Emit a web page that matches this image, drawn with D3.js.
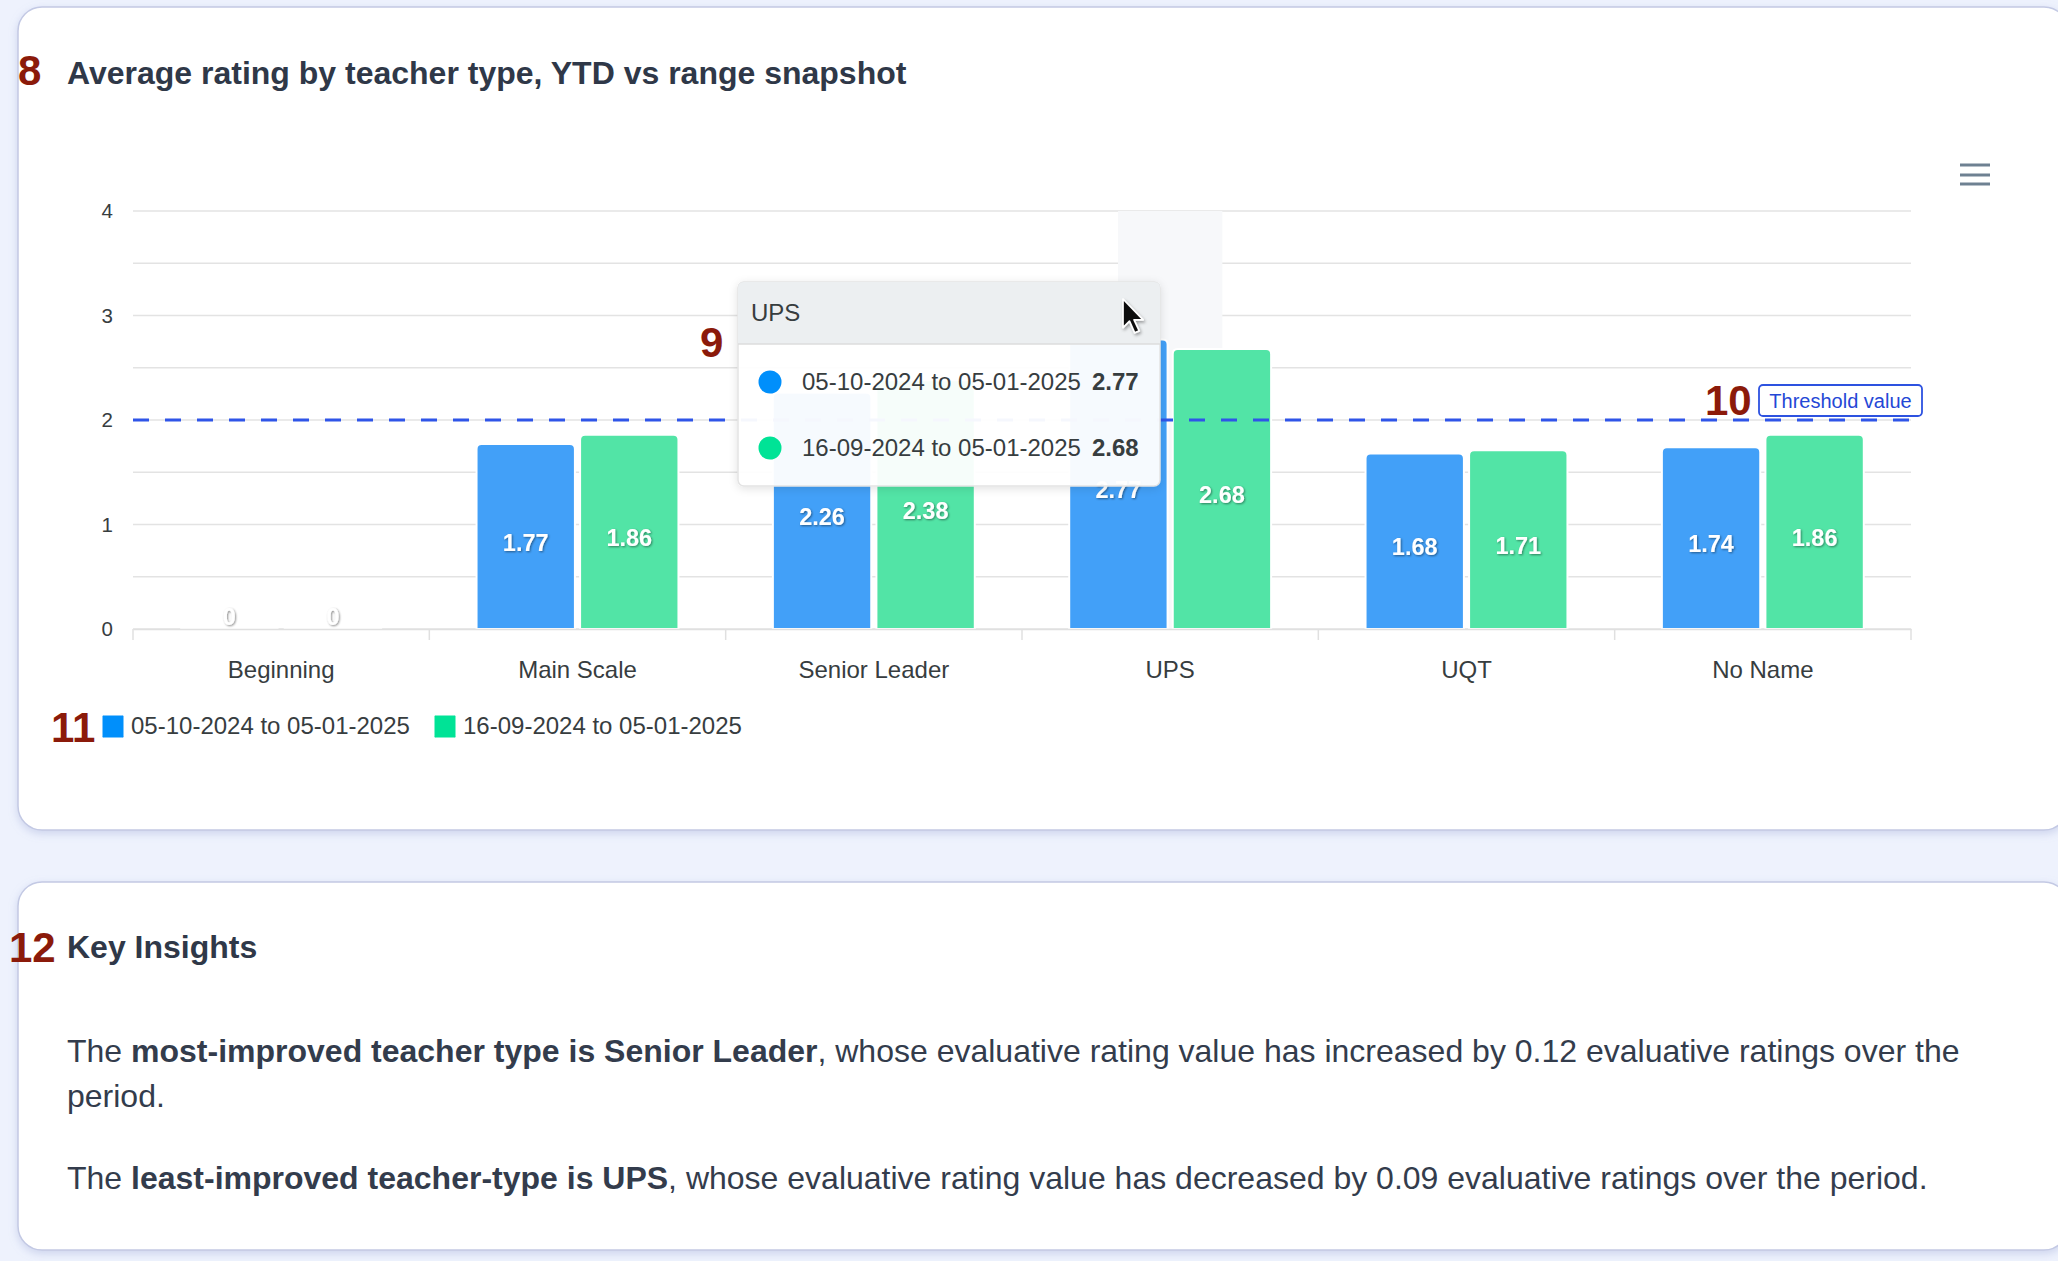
<!DOCTYPE html>
<html><head><meta charset="utf-8">
<script src="https://cdn.jsdelivr.net/npm/d3@7"></script>
<style>
html,body{margin:0;padding:0;background:#eef2fd;overflow:hidden;}
svg{display:block;font-family:"Liberation Sans",Arial,Helvetica,sans-serif;}
</style></head><body>
<svg id="c" width="2058" height="1261"></svg>
<script>
// ---------- data ----------
const categories = ["Beginning","Main Scale","Senior Leader","UPS","UQT","No Name"];
const seriesNames = ["05-10-2024 to 05-01-2025","16-09-2024 to 05-01-2025"];
const seriesA = [0, 1.77, 2.26, 2.77, 1.68, 1.74];
const seriesB = [0, 1.86, 2.38, 2.68, 1.71, 1.86];
const yTickValues = [0, 1, 2, 3, 4];
const gridValues = [0, 0.5, 1, 1.5, 2, 2.5, 3, 3.5, 4];
const thresholdValue = 2;
const thresholdText = "Threshold value";
const hoveredCategory = "UPS";
const chartTitle = "Average rating by teacher type, YTD vs range snapshot";
const insightsTitle = "Key Insights";
const insightLines = [
  [["The ", false], ["most-improved teacher type is Senior Leader", true], [", whose evaluative rating value has increased by 0.12 evaluative ratings over the", false]],
  [["period.", false]],
  [["The ", false], ["least-improved teacher-type is UPS", true], [", whose evaluative rating value has decreased by 0.09 evaluative ratings over the period.", false]]
];
const markerLabels = ["8", "9", "10", "11", "12"];

// ---------- styling ----------
const fills = ["#42a0f8", "#52e4a6"];
const markerFills = ["#008ffb", "#00e396"];
const textColor = "#373d3f";
const darkRed = "#8b1a0a";

const svg = d3.select("#c");
const defs = svg.append("defs");
const sh = defs.append("filter").attr("id","cardShadow").attr("x","-5%").attr("y","-5%").attr("width","110%").attr("height","115%");
sh.append("feDropShadow").attr("dx",0).attr("dy",3).attr("stdDeviation",4).attr("flood-color","#8d9bd0").attr("flood-opacity",0.35);
const ls = defs.append("filter").attr("id","lblShadow").attr("x","-20%").attr("y","-20%").attr("width","140%").attr("height","140%");
ls.append("feDropShadow").attr("dx",1).attr("dy",1).attr("stdDeviation",1).attr("flood-color","#000").attr("flood-opacity",0.45);
const ts = defs.append("filter").attr("id","tipShadow").attr("x","-10%").attr("y","-10%").attr("width","120%").attr("height","130%");
ts.append("feDropShadow").attr("dx",0).attr("dy",2).attr("stdDeviation",4).attr("flood-color","#000").attr("flood-opacity",0.12);
const cs = defs.append("filter").attr("id","curShadow").attr("x","-30%").attr("y","-30%").attr("width","160%").attr("height","160%");
cs.append("feDropShadow").attr("dx",1).attr("dy",1.5).attr("stdDeviation",1.2).attr("flood-color","#000").attr("flood-opacity",0.35);

// ---------- cards ----------
svg.append("rect").attr("x",18).attr("y",7).attr("width",2050).attr("height",823).attr("rx",24)
  .attr("fill","#fff").attr("stroke","#c3c9e4").attr("stroke-width",1.5).attr("filter","url(#cardShadow)");
svg.append("rect").attr("x",18).attr("y",882).attr("width",2050).attr("height",368).attr("rx",24)
  .attr("fill","#fff").attr("stroke","#c3c9e4").attr("stroke-width",1.5).attr("filter","url(#cardShadow)");

// title
svg.append("text").attr("x",67).attr("y",84).attr("font-size",32).attr("font-weight","bold")
  .attr("fill","#2f3848").text(chartTitle);

// hamburger
[165,175,184].forEach(yy => svg.append("line").attr("x1",1960).attr("x2",1990).attr("y1",yy).attr("y2",yy)
  .attr("stroke","#6e8192").attr("stroke-width",3));

// ---------- scales ----------
const x = d3.scaleBand().domain(categories).range([133,1911]).padding(0);
const x1 = d3.scaleBand().domain([0,1]).range([0,x.bandwidth()]).paddingInner(0.05).paddingOuter(0.456);
const y = d3.scaleLinear().domain([0,4]).range([629,211]);

const plot = svg.append("g");

// grid
plot.selectAll("line.grid").data(gridValues).enter().append("line")
  .attr("x1",133).attr("x2",1911).attr("y1",d=>y(d)).attr("y2",d=>y(d))
  .attr("stroke","#e3e3e3").attr("stroke-width",1.5);

// crosshair for hovered category
const chW = x1.bandwidth() + 6;
plot.append("rect").attr("x", x(hoveredCategory) + x.bandwidth()/2 - chW/2).attr("y", y(4))
  .attr("width", chW).attr("height", y(0)-y(4)).attr("fill","#f7f8fa");

// y axis
const yAxis = d3.axisLeft(y).tickValues(yTickValues).tickSize(0).tickPadding(20).tickFormat(d3.format("d"));
const ya = svg.append("g").attr("transform","translate(133,0)").call(yAxis);
ya.select(".domain").remove();
ya.selectAll("text").attr("font-size",20.5).attr("fill",textColor).attr("font-family","Liberation Sans, Arial, sans-serif");

// x axis
const xAxis = d3.axisBottom(x).tickSize(0).tickSizeOuter(0);
const xa = svg.append("g").attr("transform","translate(0,629)").call(xAxis);
xa.select(".domain").attr("stroke","#e0e0e0").attr("stroke-width",1.5);
xa.selectAll("text").attr("font-size",24).attr("fill",textColor).attr("y",49).attr("dy",0)
  .attr("font-family","Liberation Sans, Arial, sans-serif");
const bounds = categories.map(c => x(c)).concat([x.range()[1]]);
xa.selectAll("line.bt").data(bounds).enter().append("line").attr("class","bt")
  .attr("x1",d=>d).attr("x2",d=>d).attr("y1",0).attr("y2",11).attr("stroke","#e0e0e0").attr("stroke-width",1.5);

// bars
function barPath(bx, by, w, h, r) {
  r = Math.min(r, h/2, w/2);
  if (h <= 0) return `M${bx},${by}H${bx+w}V${by}H${bx}Z`;
  return `M${bx},${by+h}V${by+r}Q${bx},${by} ${bx+r},${by}H${bx+w-r}Q${bx+w},${by} ${bx+w},${by+r}V${by+h}Z`;
}
const seriesVals = [seriesA, seriesB];
const groups = plot.selectAll("g.cat").data(categories).enter().append("g")
  .attr("transform", c => `translate(${x(c)},0)`);
groups.each(function(c, i) {
  const g = d3.select(this);
  seriesVals.forEach((vals, s) => {
    const v = vals[i];
    g.append("path").attr("d", barPath(x1(s), y(v), x1.bandwidth(), y(0)-y(v), 5))
      .attr("fill", fills[s]).attr("stroke","#fff").attr("stroke-width",2);
  });
});
groups.each(function(c, i) {
  const g = d3.select(this);
  seriesVals.forEach((vals, s) => {
    const v = vals[i];
    const mid = (y(v)+y(0))/2;
    const ly = v > 0 ? mid + 14 : y(0) - 4;
    g.append("text").attr("x", x1(s)+x1.bandwidth()/2).attr("y", ly)
      .attr("text-anchor","middle").attr("font-size",23.5).attr("font-weight","bold")
      .attr("fill","#fff").attr("filter","url(#lblShadow)").text(v);
  });
});

// threshold
svg.append("line").attr("x1",133).attr("x2",1911).attr("y1",y(thresholdValue)).attr("y2",y(thresholdValue))
  .attr("stroke","#2f55e8").attr("stroke-width",2.8).attr("stroke-dasharray","16 16");
svg.append("rect").attr("x",1759).attr("y",385).attr("width",163).attr("height",31).attr("rx",4)
  .attr("fill","#fff").attr("stroke","#2d52e0").attr("stroke-width",1.8);
svg.append("text").attr("x",1840.5).attr("y",408).attr("text-anchor","middle").attr("font-size",20)
  .attr("fill","#2447d6").text(thresholdText);

// legend
const leg = svg.append("g");
const legX = [102, 434];
seriesNames.forEach((n, s) => {
  leg.append("rect").attr("x",legX[s]).attr("y",715).attr("width",22).attr("height",23).attr("rx",1.5)
    .attr("fill",markerFills[s]).attr("stroke","#fff").attr("stroke-width",1);
  leg.append("text").attr("x",legX[s]+29).attr("y",734).attr("font-size",24).attr("fill",textColor).text(n);
});

// tooltip
const hi = categories.indexOf(hoveredCategory);
const tip = svg.append("g");
tip.append("rect").attr("x",738).attr("y",282).attr("width",422).attr("height",204).attr("rx",6)
  .attr("fill","rgba(255,255,255,0.95)").attr("stroke","#e3e3e3").attr("stroke-width",1.5).attr("filter","url(#tipShadow)");
tip.append("path").attr("d","M738,344V288Q738,282 744,282H1154Q1160,282 1160,288V344Z").attr("fill","#eceff1");
tip.append("line").attr("x1",738).attr("x2",1160).attr("y1",344).attr("y2",344).attr("stroke","#dddddd").attr("stroke-width",1.5);
tip.append("text").attr("x",751).attr("y",321).attr("font-size",24).attr("fill",textColor).text(hoveredCategory);
[382, 448].forEach((cy, s) => {
  tip.append("circle").attr("cx",770).attr("cy",cy).attr("r",11.5).attr("fill",markerFills[s]);
  tip.append("text").attr("x",802).attr("y",cy+8).attr("font-size",24).attr("fill",textColor).text(seriesNames[s]);
  tip.append("text").attr("x",1092).attr("y",cy+8).attr("font-size",24).attr("font-weight","bold").attr("fill",textColor)
    .text(seriesVals[s][hi]);
});

// mouse cursor
svg.append("path").attr("transform","translate(1123,299) scale(1.3)").attr("filter","url(#curShadow)")
  .attr("d","M0,0 L0,22 L5,17 L9,26 L12.5,24.5 L8.5,16 L15.5,16 Z")
  .attr("fill","#111").attr("stroke","#fff").attr("stroke-width",1.3).attr("stroke-linejoin","round");

// insights
svg.append("text").attr("x",67).attr("y",958).attr("font-size",32).attr("font-weight","bold")
  .attr("fill","#2f3848").text(insightsTitle);
const lineY = [1062, 1107, 1189];
insightLines.forEach((segs, li) => {
  const t = svg.append("text").attr("x",67).attr("y",lineY[li]).attr("font-size",32).attr("fill","#333c4c");
  segs.forEach(([s, b]) => t.append("tspan").attr("font-weight", b ? "bold" : "normal").text(s));
});

// annotation numbers
const annPos = [[18,85],[700,357],[1705,415],[51,742],[9,962]];
markerLabels.forEach((m, i) => {
  svg.append("text").attr("x",annPos[i][0]).attr("y",annPos[i][1]).attr("font-size",42).attr("font-weight","bold")
    .attr("fill",darkRed).text(m);
});
</script>
</body></html>
